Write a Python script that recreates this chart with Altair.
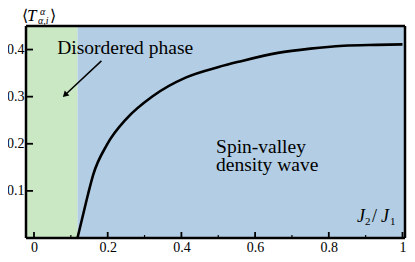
import altair as alt
import pandas as pd

# ---- data ----
curve_x = [0.118, 0.134, 0.147, 0.161, 0.198, 0.252, 0.322, 0.413, 0.501, 0.555, 0.662, 0.75, 0.84, 0.93, 1.0]
curve_y = [0.0, 0.052, 0.094, 0.135, 0.198, 0.254, 0.301, 0.341, 0.363, 0.374, 0.393, 0.402, 0.408, 0.410, 0.411]

x_domain = [-0.0217, 1.0068]
y_domain = [0.0, 0.45]
phase_boundary = 0.118

region_names = ["Disordered", "SVDW"]
region_start = [x_domain[0], phase_boundary]
region_end = [phase_boundary, x_domain[1]]
region_colors = ["#c9e8c3", "#b3cee4"]

x_major = [0, 0.2, 0.4, 0.6, 0.8, 1.0]
x_minor = [0.1, 0.3, 0.5, 0.7, 0.9]
y_major = [0.1, 0.2, 0.3, 0.4]

W, H = 379, 212
FONT = "Liberation Serif"

xs = alt.Scale(domain=x_domain, nice=False, zero=False)
ys = alt.Scale(domain=y_domain, nice=False, zero=False)

regions = pd.DataFrame({"name": region_names, "x0": region_start, "x1": region_end})
curve = pd.DataFrame({"x": curve_x, "y": curve_y})

bg = alt.Chart(regions).mark_rect(opacity=1).encode(
    x=alt.X("x0:Q", scale=xs, axis=alt.Axis(values=x_major, format=".1~f", ticks=False, domain=False,
                                            grid=False, labelFont=FONT, labelFontSize=14, labelColor="black",
                                            labelPadding=2, title=None)),
    x2="x1:Q",
    y=alt.value(0),
    y2=alt.value(H),
    color=alt.Color("name:N", scale=alt.Scale(domain=region_names, range=region_colors), legend=None),
)

yaxis_layer = alt.Chart(pd.DataFrame({"y": y_major})).mark_rule(strokeWidth=1.8, color="black").encode(
    y=alt.Y("y:Q", scale=ys, axis=alt.Axis(values=y_major, format=".1f", ticks=False, domain=False,
                                           grid=False, labelFont=FONT, labelFontSize=14, labelColor="black",
                                           labelPadding=2, title=None)),
    x=alt.value(0),
    x2=alt.value(7),
)

xmaj = alt.Chart(pd.DataFrame({"x": x_major})).mark_rule(strokeWidth=1.8, color="black").encode(
    x=alt.X("x:Q", scale=xs), y=alt.value(H), y2=alt.value(H - 6))
xmin = alt.Chart(pd.DataFrame({"x": x_minor})).mark_rule(strokeWidth=1.2, color="black").encode(
    x=alt.X("x:Q", scale=xs), y=alt.value(H), y2=alt.value(H - 3))

line = alt.Chart(curve).mark_line(color="black", strokeWidth=2.6, interpolate="monotone").encode(
    x=alt.X("x:Q", scale=xs), y=alt.Y("y:Q", scale=ys))

labels = pd.DataFrame({
    "x": [0.063, 0.494, 0.494],
    "y": [0.39, 0.180, 0.1425],
    "t": ["Disordered phase", "Spin-valley", "density wave"],
})
txt = alt.Chart(labels).mark_text(font=FONT, fontSize=19.5, align="left", baseline="alphabetic", color="black").encode(
    x=alt.X("x:Q", scale=xs), y=alt.Y("y:Q", scale=ys), text="t:N")

arrow = pd.DataFrame({"x": [0.183], "y": [0.376], "x2": [0.084], "y2": [0.3036]})
arrow_line = alt.Chart(arrow).mark_rule(color="black", strokeWidth=1.5).encode(
    x=alt.X("x:Q", scale=xs), y=alt.Y("y:Q", scale=ys), x2="x2:Q", y2="y2:Q")
arrow_head = alt.Chart(arrow).mark_point(shape="triangle-up", filled=True, color="black", size=45,
                                          angle=227, opacity=1).encode(
    x=alt.X("x2:Q", scale=xs), y=alt.Y("y2:Q", scale=ys))


def piece(text, x, y, size, italic=False):
    return alt.Chart(pd.DataFrame({"t": [text]})).mark_text(
        font=FONT, fontSize=size, fontStyle="italic" if italic else "normal", align="left",
        baseline="alphabetic", color="black").encode(x=alt.value(x), y=alt.value(y), text="t:N")


# y-axis title  <T^alpha_{alpha,i}>
title_parts = [
    piece("\u27e8", -4, -5, 16),
    piece("T", 1, -5, 17, True),
    piece("\u03b1", 14, -11, 10, True),
    piece("\u03b1,i", 12, -2, 10, True),
    piece("\u27e9", 24, -5, 16),
]
# x-axis title  J_2/J_1 (inside the plot, bottom right)
xlab_parts = [
    piece("J", 331, 196, 18, True),
    piece("2", 339, 199, 11),
    piece("/", 346, 196, 18),
    piece("J", 355, 196, 18, True),
    piece("1", 364, 199, 11),
]


def edge(x, x2, y, y2):
    return alt.Chart(pd.DataFrame({"a": [0]})).mark_rule(color="black", strokeWidth=2.5).encode(
        x=alt.value(x), x2=alt.value(x2), y=alt.value(y), y2=alt.value(y2))


frame = [edge(0, 0, 0, H), edge(W, W, 0, H), edge(0, W, 0, 0), edge(0, W, H, H)]

chart = alt.layer(bg, yaxis_layer, xmaj, xmin, line, txt, arrow_line, arrow_head, *frame,
                  *title_parts, *xlab_parts).properties(
    width=W, height=H,
    autosize=alt.AutoSizeParams(type="none"),
    padding={"left": 18, "top": 18, "right": 2, "bottom": 16},
).configure_view(stroke=None)

chart.save("out.html", embed_options={"renderer": "svg", "actions": False})
